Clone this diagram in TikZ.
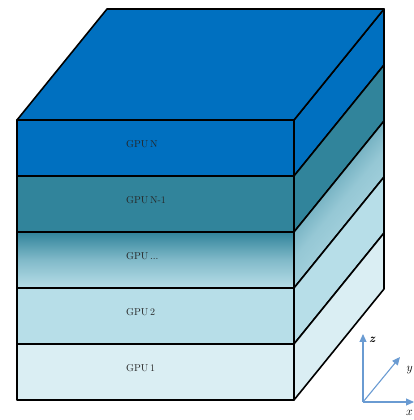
\documentclass[tikz,border=0pt]{standalone}
\usetikzlibrary{arrows.meta}
\definecolor{topblue}{HTML}{0070C0}
\definecolor{tealc}{HTML}{31849B}
\definecolor{lightb}{HTML}{B7DEE8}
\definecolor{paleb}{HTML}{DAEEF3}
\definecolor{axisc}{HTML}{6A9BD2}
\begin{document}
\begin{tikzpicture}[x=1pt,y=1pt,
  edge/.style={draw=black,line width=1.6pt,line join=round},
  lbl/.style={anchor=west,font=\fontsize{10}{11}\selectfont,inner sep=0pt,text=black!85},
  axis/.style={draw=axisc,line width=1.1pt,-{Triangle[length=8pt,width=7pt]}}]
\useasboundingbox (0,0) rectangle (414,420);
% front faces
\path[edge,fill=topblue] (17,300) rectangle (294,244);
\path[edge,fill=tealc] (17,244) rectangle (294,188);
\path[edge,top color=tealc,bottom color=lightb,middle color=lightb!60!tealc] (17,188) rectangle (294,132);
\path[edge,fill=lightb] (17,132) rectangle (294,76);
\path[edge,fill=paleb] (17,76) rectangle (294,20);
% side faces
\path[edge,fill=topblue] (294,300) -- (384,411) -- (384,355) -- (294,244) -- cycle;
\path[edge,fill=tealc] (294,244) -- (384,355) -- (384,299) -- (294,188) -- cycle;
\path[edge,top color=tealc,bottom color=lightb,middle color=lightb!75!tealc,shading angle=50] (294,188) -- (384,299) -- (384,243) -- (294,132) -- cycle;
\path[edge,fill=lightb] (294,132) -- (384,243) -- (384,187) -- (294,76) -- cycle;
\path[edge,fill=paleb] (294,76) -- (384,187) -- (384,131) -- (294,20) -- cycle;
% top face
\path[edge,fill=topblue] (17,300) -- (107,411) -- (384,411) -- (294,300) -- cycle;
% labels
\node[lbl] (gN) at (126,276) {GPU\,N};
\node[lbl] (gN1) at (126,220) {GPU\,N-1};
\node[lbl] (gD) at (126,164) {GPU\,...};
\node[lbl] (g2) at (126,108) {GPU\,2};
\node[lbl] (g1) at (126,52) {GPU\,1};
% axes
\coordinate (o) at (363,18);
\coordinate (zt) at (363,86);
\coordinate (yt) at (400,63);
\coordinate (xt) at (414,18);
\draw[axis] (o) -- (zt);
\draw[axis] (o) -- (yt);
\draw[axis] (o) -- (xt);
\node[anchor=west,inner sep=0pt,font=\large\bfseries] (zl) at (369,80) {\textit{z}};
\node[anchor=east,inner sep=0pt,font=\large] (yl) at (413,50) {$y$};
\node[anchor=east,inner sep=0pt,font=\large] (xl) at (413,7) {$x$};
\end{tikzpicture}
\end{document}
